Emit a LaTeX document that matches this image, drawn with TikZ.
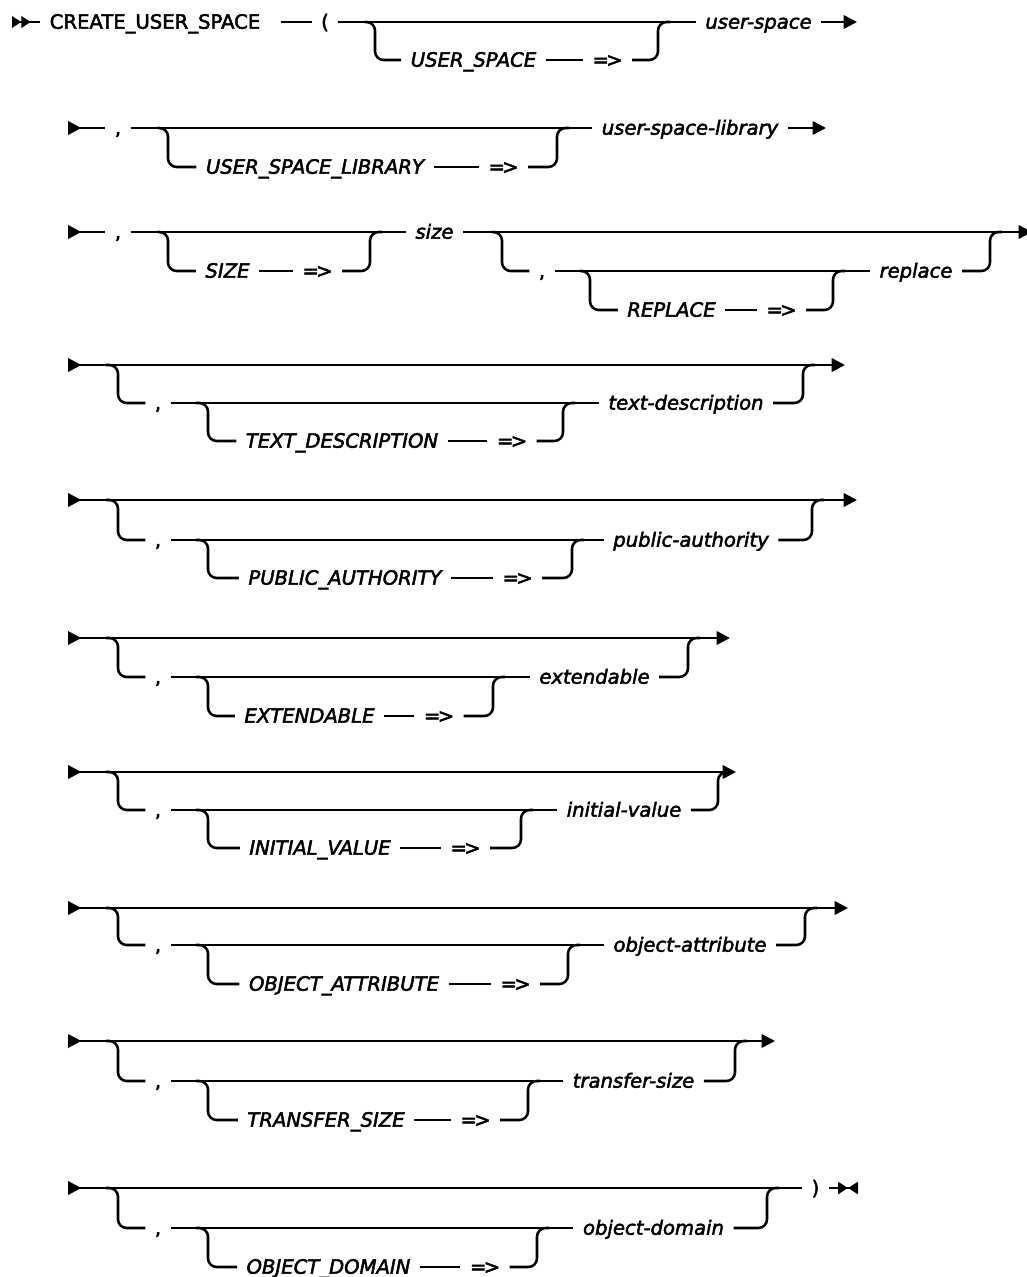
\documentclass[tikz,border=0pt]{standalone}
\usepackage{fontspec}
\setmainfont{DejaVu Sans}[FakeBold=2.5]
\usepackage{tikz}
\usetikzlibrary{arrows.meta}
\newcommand{\railfont}{\fontsize{14.7}{17}\selectfont}

\begin{document}
\begin{tikzpicture}[
    x=0.75pt, y=-0.75pt,
    rail/.style={line width=1.9pt, rounded corners=6.5pt},
    lbl/.style={inner xsep=7pt, inner ysep=0pt, text height=12pt, text depth=2pt, font=\railfont},
    var/.style={lbl, font=\railfont\itshape},
    go/.style={-{Triangle[length=10pt, width=10pt]}},
    cont/.style={{Triangle[length=10pt, width=10pt, reversed]}-},
    opt/.style={{Triangle[length=10pt, width=10pt, reversed]}-{Triangle[length=10pt, width=10pt]}},
    begin/.style={{Triangle[length=7pt, width=8.5pt, reversed, sep=0pt]Triangle[length=7pt, width=8.5pt, reversed, sep=0pt]}-},
    fin/.style={-{Triangle[length=7.5pt, width=9pt, sep=0pt]Triangle[length=7.5pt, width=9pt, reversed, sep=0pt]}}
  ]
  \useasboundingbox (0,0) rectangle (1026,1277);

  % row 1: command name and user-space
  \node[lbl] (cmd) at (155,22) {CREATE\_USER\_SPACE};
  \node[lbl] (open) at (325,22) {(};
  \node[var] (kw1) at (473.5,60) {USER\_SPACE};
  \node[lbl] (to1) at (607.5,60) {=\kern-2pt>};
  \node[var] (val1) at (758.5,22) {user-space};
  \draw[rail, begin] (12,22) -- (cmd.west);
  \draw[rail, shorten <=8pt] (cmd.east) -- (open.west);
  \draw[rail] (open.east) -- (val1.west);
  \draw[rail] (365,22) -- (375,22) -- (375,60) -- (kw1.west);
  \draw[rail] (kw1.east) -- (to1.west);
  \draw[rail] (to1.east) -| (658,22) -- (670,22);
  \draw[rail, go] (val1.east) -- (857,22);

  % row 2: user-space-library
  \node[lbl] (sep2) at (118,128) {,};
  \node[var] (kw2) at (315,167) {USER\_SPACE\_LIBRARY};
  \node[lbl] (to2) at (503.5,167) {=\kern-2pt>};
  \node[var] (val2) at (690,128) {user-space-library};
  \draw[rail, cont] (68,128) -- (sep2.west);
  \draw[rail] (sep2.east) -- (val2.west);
  \draw[rail] (158,128) -- (168,128) -- (168,167) -- (kw2.west);
  \draw[rail] (kw2.east) -- (to2.west);
  \draw[rail] (to2.east) -| (557,128) -- (569,128);
  \draw[rail, go] (val2.east) -- (826,128);

  % row 3: size, optional replace
  \node[lbl] (sep3) at (118,232) {,};
  \node[var] (kw3) at (227.5,271) {SIZE};
  \node[lbl] (to3) at (317.5,271) {=\kern-2pt>};
  \node[var] (val3) at (434.5,232) {size};
  \node[lbl] (sep3b) at (542,271) {,};
  \node[var] (kw3b) at (671.5,310) {REPLACE};
  \node[lbl] (to3b) at (781.5,310) {=\kern-2pt>};
  \node[var] (val3b) at (916,271) {replace};
  \draw[rail, cont] (68,232) -- (sep3.west);
  \draw[rail] (sep3.east) -- (val3.west);
  \draw[rail] (158,232) -- (168,232) -- (168,271) -- (kw3.west);
  \draw[rail] (kw3.east) -- (to3.west);
  \draw[rail] (to3.east) -| (370,232) -- (382,232);
  \draw[rail, go] (val3.east) -- (1032,232);
  \draw[rail] (492,232) -- (502,232) -- (502,271) -- (sep3b.west);
  \draw[rail] (sep3b.east) -- (val3b.west);
  \draw[rail] (580,271) -- (590,271) -- (590,310) -- (kw3b.west);
  \draw[rail] (kw3b.east) -- (to3b.west);
  \draw[rail] (to3b.east) -| (833,271) -- (845,271);
  \draw[rail] (val3b.east) -| (990,232) -- (1002,232);

  % row 4: optional text-description
  \node[lbl] (sep4) at (158,403) {,};
  \node[var] (kw4) at (342,441) {TEXT\_DESCRIPTION};
  \node[lbl] (to4) at (512,441) {=\kern-2pt>};
  \node[var] (val4) at (686,403) {text-description};
  \draw[rail, opt] (68,365) -- (845,365);
  \draw[rail] (106,365) -- (118,365) -- (118,403) -- (sep4.west);
  \draw[rail] (sep4.east) -- (val4.west);
  \draw[rail] (196,403) -- (208,403) -- (208,441) -- (kw4.west);
  \draw[rail] (kw4.east) -- (to4.west);
  \draw[rail] (to4.east) -| (563,403) -- (575,403);
  \draw[rail] (val4.east) -| (803,365) -- (815,365);

  % row 5: optional public-authority
  \node[lbl] (sep5) at (158,540) {,};
  \node[var] (kw5) at (345,578) {PUBLIC\_AUTHORITY};
  \node[lbl] (to5) at (517.5,578) {=\kern-2pt>};
  \node[var] (val5) at (691,540) {public-authority};
  \draw[rail, opt] (68,500) -- (857,500);
  \draw[rail] (106,500) -- (118,500) -- (118,540) -- (sep5.west);
  \draw[rail] (sep5.east) -- (val5.west);
  \draw[rail] (196,540) -- (208,540) -- (208,578) -- (kw5.west);
  \draw[rail] (kw5.east) -- (to5.west);
  \draw[rail] (to5.east) -| (572,540) -- (584,540);
  \draw[rail] (val5.east) -| (812,500) -- (824,500);

  % row 6: optional extendable
  \node[lbl] (sep6) at (158,677) {,};
  \node[var] (kw6) at (309.5,716) {EXTENDABLE};
  \node[lbl] (to6) at (439,716) {=\kern-2pt>};
  \node[var] (val6) at (594.5,677) {extendable};
  \draw[rail, opt] (68,638) -- (730,638);
  \draw[rail] (106,638) -- (118,638) -- (118,677) -- (sep6.west);
  \draw[rail] (sep6.east) -- (val6.west);
  \draw[rail] (196,677) -- (208,677) -- (208,716) -- (kw6.west);
  \draw[rail] (kw6.east) -- (to6.west);
  \draw[rail] (to6.east) -| (493,677) -- (505,677);
  \draw[rail] (val6.east) -| (688,638) -- (700,638);

  % row 7: optional initial-value
  \node[lbl] (sep7) at (158,810) {,};
  \node[var] (kw7) at (320,848) {INITIAL\_VALUE};
  \node[lbl] (to7) at (465.5,848) {=\kern-2pt>};
  \node[var] (val7) at (624,810) {initial-value};
  \draw[rail, opt] (68,772) -- (736,772);
  \draw[rail] (106,772) -- (118,772) -- (118,810) -- (sep7.west);
  \draw[rail] (sep7.east) -- (val7.west);
  \draw[rail] (196,810) -- (208,810) -- (208,848) -- (kw7.west);
  \draw[rail] (kw7.east) -- (to7.west);
  \draw[rail] (to7.east) -| (521,810) -- (533,810);
  \draw[rail] (val7.east) -| (718,772) -- (728,772);

  % row 8: optional object-attribute
  \node[lbl] (sep8) at (158,945) {,};
  \node[var] (kw8) at (344,984) {OBJECT\_ATTRIBUTE};
  \node[lbl] (to8) at (515.5,984) {=\kern-2pt>};
  \node[var] (val8) at (690,945) {object-attribute};
  \draw[rail, opt] (68,908) -- (848,908);
  \draw[rail] (106,908) -- (118,908) -- (118,945) -- (sep8.west);
  \draw[rail] (sep8.east) -- (val8.west);
  \draw[rail] (196,945) -- (208,945) -- (208,984) -- (kw8.west);
  \draw[rail] (kw8.east) -- (to8.west);
  \draw[rail] (to8.east) -| (568,945) -- (580,945);
  \draw[rail] (val8.east) -| (805,908) -- (817,908);

  % row 9: optional transfer-size
  \node[lbl] (sep9) at (158,1081) {,};
  \node[var] (kw9) at (326,1120) {TRANSFER\_SIZE};
  \node[lbl] (to9) at (475.5,1120) {=\kern-2pt>};
  \node[var] (val9) at (633.5,1081) {transfer-size};
  \draw[rail, opt] (68,1041) -- (775,1041);
  \draw[rail] (106,1041) -- (118,1041) -- (118,1081) -- (sep9.west);
  \draw[rail] (sep9.east) -- (val9.west);
  \draw[rail] (196,1081) -- (208,1081) -- (208,1120) -- (kw9.west);
  \draw[rail] (kw9.east) -- (to9.west);
  \draw[rail] (to9.east) -| (528,1081) -- (540,1081);
  \draw[rail] (val9.east) -| (735,1041) -- (747,1041);

  % row 10: optional object-domain, then close
  \node[lbl] (sep10) at (158,1228) {,};
  \node[var] (kw10) at (328.5,1267) {OBJECT\_DOMAIN};
  \node[lbl] (to10) at (485,1267) {=\kern-2pt>};
  \node[var] (val10) at (653.5,1228) {object-domain};
  \node[lbl] (close) at (815.5,1188) {)};
  \draw[rail, cont] (68,1188) -- (close.west);
  \draw[rail, fin] (close.east) -- (858,1188);
  \draw[rail] (106,1188) -- (118,1188) -- (118,1228) -- (sep10.west);
  \draw[rail] (sep10.east) -- (val10.west);
  \draw[rail] (196,1228) -- (208,1228) -- (208,1267) -- (kw10.west);
  \draw[rail] (kw10.east) -- (to10.west);
  \draw[rail] (to10.east) -| (537,1228) -- (549,1228);
  \draw[rail] (val10.east) -| (767,1188) -- (779,1188);
\end{tikzpicture}
\end{document}
